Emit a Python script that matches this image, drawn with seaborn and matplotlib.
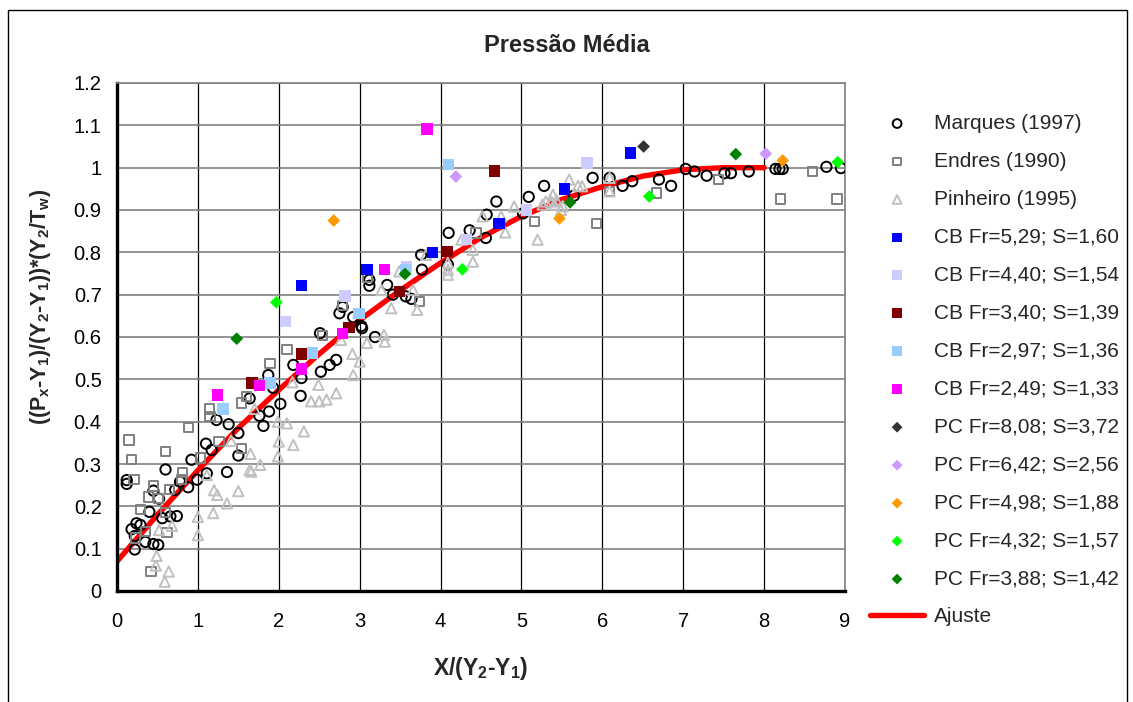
import matplotlib
matplotlib.use("Agg")
import matplotlib.pyplot as plt
import seaborn as sns
import pandas as pd
from matplotlib.patches import Rectangle

# ---------------- data ----------------
marques_x = [0.12, 0.12, 0.60, 0.92, 0.88, 0.78, 0.99, 0.45, 0.52, 0.72, 0.66, 0.74, 0.56,
             0.40, 0.24, 0.18, 0.22, 0.22, 0.35, 0.45, 0.51, 0.29, 1.10, 1.17, 1.38, 1.50,
             1.50, 1.36, 1.23, 1.11, 1.64, 1.76, 1.81, 1.88, 2.02, 1.93, 2.27, 1.87, 2.18,
             2.28, 2.52, 2.63, 2.71, 2.51, 3.02, 3.19, 2.79, 2.75, 2.92, 3.03, 3.12, 3.12,
             3.34, 3.41, 3.57, 3.64, 3.76, 3.77, 4.10, 4.09, 4.36, 4.56, 4.57, 4.69, 5.02,
             5.09, 5.28, 5.65, 5.88, 6.09, 6.25, 6.37, 6.70, 6.85, 7.03, 7.14, 7.29, 7.51,
             7.59, 7.81, 8.14, 8.19, 8.23, 8.77, 8.95]
marques_y = [0.262, 0.253, 0.287, 0.310, 0.245, 0.258, 0.263, 0.237, 0.218, 0.239, 0.176,
             0.177, 0.172, 0.187, 0.160, 0.146, 0.130, 0.098, 0.116, 0.111, 0.109, 0.156,
             0.348, 0.333, 0.394, 0.373, 0.320, 0.281, 0.404, 0.278, 0.455, 0.414, 0.390,
             0.424, 0.442, 0.480, 0.461, 0.510, 0.534, 0.503, 0.518, 0.534, 0.546, 0.609,
             0.626, 0.600, 0.671, 0.656, 0.647, 0.621, 0.735, 0.721, 0.723, 0.700, 0.696,
             0.690, 0.794, 0.759, 0.846, 0.771, 0.852, 0.834, 0.889, 0.920, 0.892, 0.931,
             0.957, 0.934, 0.976, 0.976, 0.957, 0.968, 0.972, 0.957, 0.997, 0.991, 0.981,
             0.987, 0.987, 0.991, 0.997, 0.997, 0.997, 1.002, 0.999]

endres_x = [0.15, 0.18, 0.21, 0.60, 0.88, 0.45, 0.39, 0.29, 0.51, 0.65, 0.81, 0.80, 0.35,
            0.23, 0.62, 0.42, 0.60, 1.03, 1.26, 1.54, 1.14, 1.15, 1.54, 1.60, 2.10, 1.89,
            2.54, 2.79, 3.10, 3.74, 4.44, 5.16, 5.93, 6.67, 7.44, 8.20, 8.60, 8.90, 6.09]
endres_y = [0.357, 0.310, 0.264, 0.329, 0.386, 0.248, 0.222, 0.193, 0.219, 0.239, 0.280,
            0.264, 0.140, 0.125, 0.138, 0.046, 0.186, 0.314, 0.353, 0.337, 0.430, 0.413,
            0.444, 0.459, 0.570, 0.538, 0.603, 0.674, 0.742, 0.684, 0.846, 0.873, 0.868,
            0.940, 0.972, 0.926, 0.991, 0.926, 0.944]

pinheiro_x = [1.20, 1.24, 1.36, 1.50, 1.00, 1.00, 1.19, 0.68, 0.52, 0.49, 0.48, 0.64, 0.59,
              1.11, 1.64, 1.66, 1.77, 1.65, 1.41, 2.00, 1.99, 2.18, 2.31, 2.10, 1.99, 2.17,
              2.49, 2.40, 2.50, 2.59, 2.71, 1.70, 2.92, 3.00, 2.91, 3.09, 3.31, 3.30, 2.77,
              3.27, 3.39, 3.66, 3.71, 3.49, 3.82, 4.09, 4.09, 4.09, 4.26, 4.40, 4.40, 4.80,
              4.52, 4.75, 4.91, 5.20, 5.26, 5.37, 5.43, 5.59, 5.70, 5.75, 6.09, 6.09, 5.49,
              5.39, 5.30, 5.41, 5.51]
pinheiro_y = [0.238, 0.227, 0.207, 0.236, 0.175, 0.132, 0.184, 0.154, 0.144, 0.083, 0.060,
              0.046, 0.022, 0.274, 0.286, 0.282, 0.298, 0.324, 0.355, 0.353, 0.318, 0.345,
              0.377, 0.396, 0.400, 0.493, 0.487, 0.448, 0.448, 0.452, 0.467, 0.430, 0.510,
              0.542, 0.560, 0.586, 0.589, 0.605, 0.593, 0.711, 0.668, 0.711, 0.664, 0.755,
              0.794, 0.747, 0.759, 0.775, 0.830, 0.806, 0.778, 0.847, 0.885, 0.885, 0.908,
              0.830, 0.913, 0.920, 0.924, 0.972, 0.957, 0.956, 0.976, 0.944, 0.900, 0.936,
              0.920, 0.913, 0.909]

cb529_x = [2.28, 3.09, 3.90, 4.72, 5.53, 6.35]
cb529_y = [0.722, 0.759, 0.800, 0.868, 0.950, 1.035]
cb440_x = [2.08, 2.82, 3.58, 4.32, 5.06, 5.81]
cb440_y = [0.637, 0.697, 0.765, 0.830, 0.900, 1.011]
cb340_x = [1.67, 2.28, 2.87, 3.49, 4.08, 4.67]
cb340_y = [0.491, 0.560, 0.622, 0.708, 0.802, 0.992]
cb297_x = [1.31, 1.89, 2.42, 2.99, 3.57, 4.10]
cb297_y = [0.430, 0.491, 0.562, 0.656, 0.760, 1.007]
cb249_x = [1.24, 1.76, 2.28, 2.79, 3.31, 3.83]
cb249_y = [0.463, 0.485, 0.524, 0.608, 0.760, 1.091]

pc808_x = [6.51]
pc808_y = [1.050]
pc642_x = [4.19, 8.02]
pc642_y = [0.979, 1.033]
pc498_x = [2.68, 5.47, 8.23]
pc498_y = [0.875, 0.880, 1.017]
pc432_x = [1.97, 4.27, 6.58, 8.91]
pc432_y = [0.682, 0.760, 0.932, 1.013]
pc388_x = [1.48, 3.56, 5.60, 7.65]
pc388_y = [0.596, 0.749, 0.918, 1.032]

ajuste_x = [0, 0.5, 1, 1.5, 2, 2.5, 3, 3.5, 4, 4.5, 5, 5.5, 6, 6.5, 7, 7.5, 8]
ajuste_y = [0.07, 0.18, 0.285, 0.385, 0.475, 0.56, 0.64, 0.71, 0.775, 0.835, 0.885,
            0.925, 0.955, 0.98, 0.995, 1.0, 1.0]

x_ticks = [0, 1, 2, 3, 4, 5, 6, 7, 8, 9]
y_ticks = [0, 0.1, 0.2, 0.3, 0.4, 0.5, 0.6, 0.7, 0.8, 0.9, 1, 1.1, 1.2]
y_ticklabels = ["0", "0.1", "0.2", "0.3", "0.4", "0.5", "0.6", "0.7", "0.8", "0.9",
                "1", "1.1", "1.2"]

# ---------------- style ----------------
sns.set_style("white")
plt.rcParams["font.family"] = ["Liberation Sans", "DejaVu Sans"]
plt.rcParams["mathtext.fontset"] = "custom"
plt.rcParams["mathtext.rm"] = "Liberation Sans:bold"
plt.rcParams["mathtext.it"] = "Liberation Sans:bold"
plt.rcParams["mathtext.bf"] = "Liberation Sans:bold"
plt.rcParams["mathtext.default"] = "rm"

W, H = 1133, 702
fig = plt.figure(figsize=(W / 100, H / 100), dpi=100)
fig.patch.set_facecolor("white")
ax = fig.add_axes([117 / W, 1 - 591 / H, (845 - 117) / W, (591 - 83) / H])

# outer chart frame
fig.patches.append(Rectangle((8 / W, -0.02), (1127 - 8) / W, (702 - 10) / H + 0.02,
                             transform=fig.transFigure, fill=False,
                             edgecolor="black", linewidth=1.0, zorder=0))

# fitted curve underneath the markers
sns.lineplot(x=ajuste_x, y=ajuste_y, ax=ax, color="#FF0000", linewidth=3.9,
             label="Ajuste", zorder=2, sort=True)

open_series = [
    (marques_x, marques_y, "Marques (1997)", "o", "black", 55),
    (endres_x, endres_y, "Endres (1990)", "s", "#808080", 45),
    (pinheiro_x, pinheiro_y, "Pinheiro (1995)", "^", "#C0C0C0", 55),
]
for xs, ys, name, mk, col, sz in open_series:
    sns.scatterplot(x=xs, y=ys, ax=ax, marker=mk, s=sz, facecolors="none",
                    edgecolor=col, linewidth=1.4, label=name, zorder=3)

filled_series = [
    (cb529_x, cb529_y, "CB Fr=5,29; S=1,60", "s", "#0000FF", 68),
    (cb440_x, cb440_y, "CB Fr=4,40; S=1,54", "s", "#CCCCFF", 68),
    (cb340_x, cb340_y, "CB Fr=3,40; S=1,39", "s", "#800000", 68),
    (cb297_x, cb297_y, "CB Fr=2,97; S=1,36", "s", "#99CCFF", 68),
    (cb249_x, cb249_y, "CB Fr=2,49; S=1,33", "s", "#FF00FF", 68),
    (pc808_x, pc808_y, "PC Fr=8,08; S=3,72", "D", "#333333", 42),
    (pc642_x, pc642_y, "PC Fr=6,42; S=2,56", "D", "#CC99FF", 42),
    (pc498_x, pc498_y, "PC Fr=4,98; S=1,88", "D", "#FF9900", 42),
    (pc432_x, pc432_y, "PC Fr=4,32; S=1,57", "D", "#00FF00", 42),
    (pc388_x, pc388_y, "PC Fr=3,88; S=1,42", "D", "#008000", 42),
]
for xs, ys, name, mk, col, sz in filled_series:
    sns.scatterplot(x=xs, y=ys, ax=ax, marker=mk, s=sz, color=col,
                    edgecolor="none", linewidth=0, label=name, zorder=4)

# ---------------- axes ----------------
ax.set_xlim(0, 9)
ax.set_ylim(0, 1.2)
ax.set_xticks(x_ticks)
ax.set_xticklabels([str(t) for t in x_ticks])
ax.set_yticks(y_ticks)
ax.set_yticklabels(y_ticklabels)
ax.tick_params(axis="both", labelsize=14.5, colors="black", direction="out",
               length=5, width=2)
ax.tick_params(axis="x", pad=10)
ax.tick_params(axis="y", pad=6)

ax.set_axisbelow(True)
ax.yaxis.grid(True, color="#808080", linewidth=1.2)
ax.xaxis.grid(True, color="black", linewidth=0.9)
for side in ("left", "bottom"):
    ax.spines[side].set_color("black")
    ax.spines[side].set_linewidth(2.4)
for side in ("top", "right"):
    ax.spines[side].set_color("#808080")
    ax.spines[side].set_linewidth(1.2)
    ax.spines[side].set_visible(True)

ax.set_xlabel(r"X/(Y$_2$-Y$_1$)", fontsize=16.5, fontweight="bold")
ax.xaxis.set_label_coords(0.5, -0.125)
ax.set_ylabel(r"((P$_x$-Y$_1$)/(Y$_2$-Y$_1$))*(Y$_2$/T$_w$)", fontsize=15.5,
              fontweight="bold")
ax.yaxis.set_label_coords(-0.088, 0.56)

fig.text(567 / W, 1 - 45 / H, "Pressão Média", fontsize=17, fontweight="bold",
         ha="center", va="center")

# ---------------- legend ----------------
handles, labels = ax.get_legend_handles_labels()
if ax.get_legend() is not None:
    ax.get_legend().remove()
order = labels[1:] + labels[:1]
hmap = dict(zip(labels, handles))
fig.legend([hmap[l] for l in order], order, loc="upper left",
           bbox_to_anchor=(870 / W, 1 - 114 / H), frameon=False, fontsize=15,
           labelspacing=0.91, handlelength=2.6, handletextpad=0.45,
           markerscale=0.85, borderaxespad=0, borderpad=0)

fig.savefig("out.png", dpi=100, facecolor="white")
